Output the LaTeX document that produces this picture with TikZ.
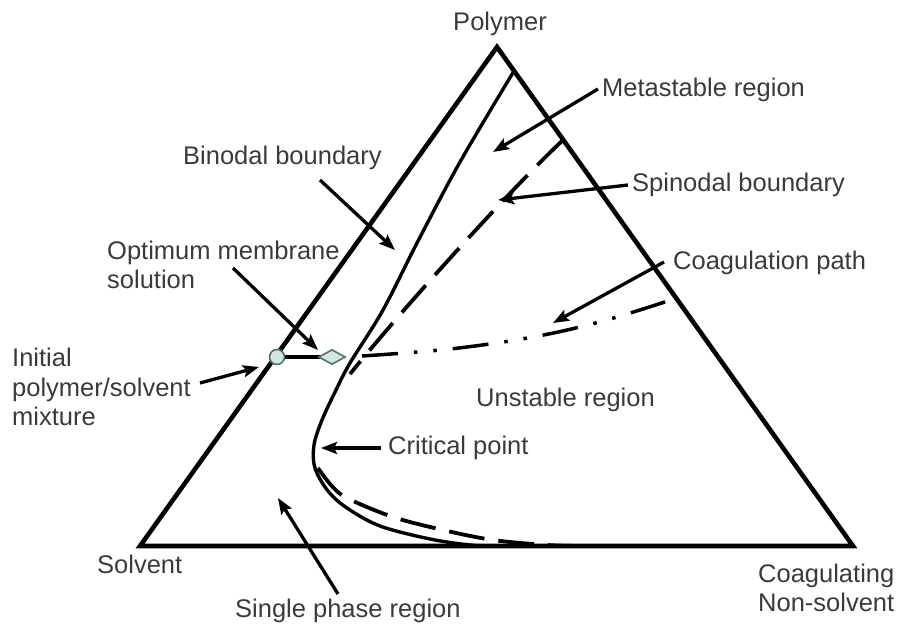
\documentclass[tikz,border=0pt]{standalone}
\usepackage{fontspec}
\setmainfont{Liberation Sans}
\usetikzlibrary{arrows.meta,shapes.geometric}
\definecolor{txt}{HTML}{3A3A3A}
\definecolor{mark}{HTML}{CFE6E4}
\definecolor{markline}{HTML}{4F7472}
\begin{document}
\begin{tikzpicture}[x=1pt,y=-1pt,
  tri/.style={line width=4.6pt,line join=miter},
  curve/.style={line width=3.4pt},
  spin/.style={line width=3.8pt,dash pattern=on 36pt off 14pt},
  coag/.style={line width=3.5pt,dash pattern=on 36pt off 16pt on 3.5pt off 16pt on 3.5pt off 16pt},
  arr/.style={line width=3.3pt,-{Stealth[length=16pt,width=12pt,inset=3pt]}},
  lbl/.style={inner sep=0pt,text=txt,font=\fontsize{25.5}{29.5}\selectfont,align=left},
  mk/.style={fill=mark,draw=markline,line width=1.6pt}]
\useasboundingbox (0,0) rectangle (899,625);
% triangle
\coordinate (P) at (497,47);
\coordinate (S) at (140,546);
\coordinate (N) at (853,546);
\draw[tri] (S) -- (P) -- (N) -- cycle;
% binodal
\draw[curve] plot[smooth,tension=0.55] coordinates {(514,71) (460,162) (417,243) (383,310) (350,363) (336,390) (322,420) (314,445) (315,468) (328,491) (347,508) (380,526) (430,539) (470,545) (495,546)};
% spinodal
\draw[spin] (563,140) .. controls (515,185) and (410,300) .. (350,374);
\draw[spin] plot[smooth,tension=0.55] coordinates {(318,468) (331,485) (347,498) (393,517) (443,530) (493,540) (547,545) (582,546)};
% coagulation path
\coordinate (c1) at (277,357);
\coordinate (c2) at (332,357);
\draw[curve] (c1) -- (c2);
\draw[coag] plot[smooth,tension=0.6] coordinates {(362,356) (450,349) (533,337) (603,321) (674,299)};
% markers
\node[mk,circle,minimum size=15pt,inner sep=0pt] (ci) at (c1) {};
\node[mk,diamond,minimum width=27pt,minimum height=15pt,inner sep=0pt] (di) at (c2) {};
% labels
\node[lbl] (tpol) at (500,24) {Polymer};
\node[lbl,anchor=west] (tmeta) at (602,90) {Metastable region};
\node[lbl,anchor=west] (tbin) at (183,158) {Binodal boundary};
\node[lbl,anchor=west] (tspin) at (632,185) {Spinodal boundary};
\node[lbl,anchor=west] (topt) at (107,265) {Optimum membrane\\solution};
\node[lbl,anchor=west] (tcoag) at (673,263) {Coagulation path};
\node[lbl,anchor=west] (tini) at (12,387) {Initial\\polymer/solvent\\mixture};
\node[lbl,anchor=west] (tuns) at (476,400) {Unstable region};
\node[lbl,anchor=west] (tcrit) at (388,448) {Critical point};
\node[lbl,anchor=west] (tsol) at (97,564) {Solvent};
\node[lbl,anchor=west] (tsing) at (235,611) {Single phase region};
\node[lbl,anchor=west] (tnon) at (758,588) {Coagulating\\Non-solvent};
% arrows
\coordinate (ameta) at (598,89);   \coordinate (bmeta) at (493,152);
\coordinate (aspin) at (628,185);  \coordinate (bspin) at (498,200);
\coordinate (abin) at (320,180);   \coordinate (bbin) at (395,250);
\coordinate (aopt) at (233,268);   \coordinate (bopt) at (318,350);
\coordinate (aini) at (200,383);   \coordinate (bini) at (259,367);
\coordinate (acoag) at (664,262);  \coordinate (bcoag) at (553,323);
\coordinate (acrit) at (381,448);  \coordinate (bcrit) at (321,448);
\coordinate (asing) at (338,594);  \coordinate (bsing) at (278,498);
\draw[arr] (ameta) -- (bmeta);
\draw[arr] (aspin) -- (bspin);
\draw[arr] (abin) -- (bbin);
\draw[arr] (aopt) -- (bopt);
\draw[arr] (aini) -- (bini);
\draw[arr] (acoag) -- (bcoag);
\draw[arr] (acrit) -- (bcrit);
\draw[arr] (asing) -- (bsing);
\end{tikzpicture}
\end{document}
